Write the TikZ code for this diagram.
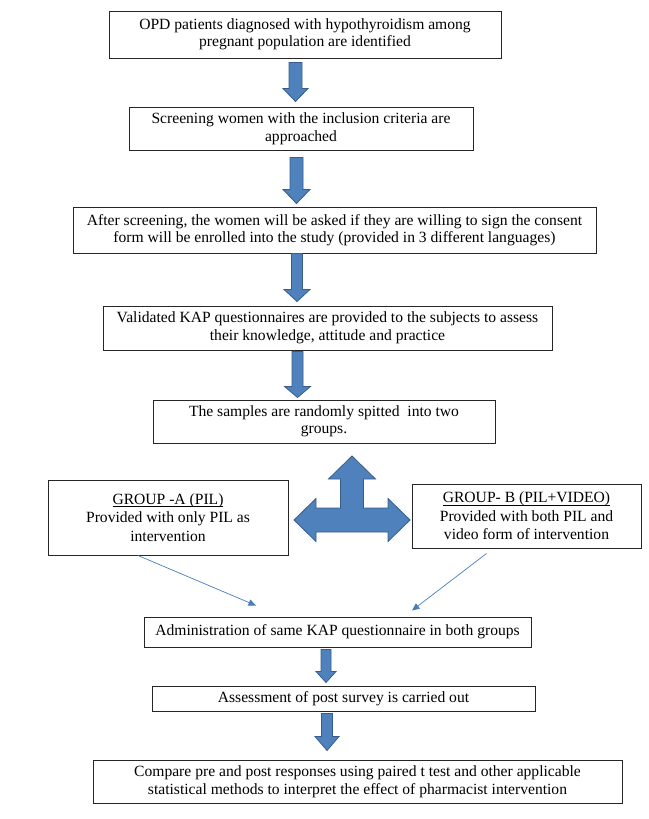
\documentclass[tikz,border=0pt]{standalone}
\usepackage{fontspec}
\setmainfont{Liberation Serif}
\usetikzlibrary{calc,arrows.meta}
\definecolor{arrfill}{RGB}{79,129,189}
\definecolor{arrdraw}{RGB}{56,93,138}
\definecolor{thinblue}{RGB}{74,126,187}
\newcommand\ulin[1]{\setbox0\hbox{#1}\rlap{\rule[-2.6pt]{\wd0}{0.8pt}}\box0}
\tikzset{
  box/.style={draw=black!85, line width=1pt, align=center, inner sep=0pt,
    font=\rmfamily\fontsize{15.6pt}{17.5pt}\selectfont},
  groupbox/.style={box, font=\rmfamily\fontsize{15.6pt}{18.5pt}\selectfont},
  blockarrow/.style={fill=arrfill, draw=arrdraw, line width=0.8pt, line join=miter},
  thinarrow/.style={draw=thinblue, line width=0.7pt, -{Triangle[width=6.5pt,length=7.5pt]}},
}
% #1 upper node, #2 lower node, #3 x, #4 top gap, #5 bottom gap,
% #6 shaft half width, #7 head half width, #8 head length
\newcommand\blockdown[8]{%
  \path[blockarrow] let \p1=(#1.south), \p2=(#2.north) in
    ({(#3-#6)*1pt},{\y1-#4pt}) -- ({(#3+#6)*1pt},{\y1-#4pt})
    -- ({(#3+#6)*1pt},{\y2+#5pt+#8pt}) -- ({(#3+#7)*1pt},{\y2+#5pt+#8pt})
    -- ({#3*1pt},{\y2+#5pt})
    -- ({(#3-#7)*1pt},{\y2+#5pt+#8pt}) -- ({(#3-#6)*1pt},{\y2+#5pt+#8pt}) -- cycle;}
\begin{document}
\begin{tikzpicture}[x=1pt,y=-1pt]
\useasboundingbox (0,0) rectangle (648,819);

\node[box, minimum width=392pt, minimum height=47pt] (b1) at (305,34.5)
  {OPD patients diagnosed with hypothyroidism among\\pregnant population are identified};
\node[box, minimum width=344pt, minimum height=43pt] (b2) at (301,128.5)
  {Screening women with the inclusion criteria are\\approached};
\node[box, minimum width=523pt, minimum height=46pt] (b3) at (334.5,230)
  {After screening, the women will be asked if they are willing to sign the consent\\form will be enrolled into the study (provided in 3 different languages)};
\node[box, minimum width=449pt, minimum height=44pt] (b4) at (327.5,328)
  {Validated KAP questionnaires are provided to the subjects to assess\\their knowledge, attitude and practice};
\node[box, minimum width=342pt, minimum height=43pt] (b5) at (324,421.5)
  {The samples are randomly spitted\ \ into two\\groups.};
\node[groupbox, minimum width=240pt, minimum height=75pt] (gA) at (168,517.5)
  {\ulin{GROUP -A (PIL)}\\Provided with only PIL as\\intervention};
\node[groupbox, minimum width=229pt, minimum height=64pt] (gB) at (526.5,516)
  {\ulin{GROUP- B (PIL+VIDEO)}\\Provided with both PIL and\\video form of intervention};
\node[box, minimum width=387pt, minimum height=30pt] (adm) at (337.5,632)
  {Administration of same KAP questionnaire in both groups};
\node[box, minimum width=383pt, minimum height=25pt] (b7) at (343.5,698.5)
  {Assessment of post survey is carried out};
\node[box, minimum width=529pt, minimum height=43pt] (b8) at (357.5,781.5)
  {Compare pre and post responses using paired t test and other applicable\\statistical methods to interpret the effect of pharmacist intervention};

\blockdown{b1}{b2}{295.5}{4}{5}{6.5}{12.5}{13}
\blockdown{b2}{b3}{296.5}{7}{3}{6.5}{13.5}{14}
\blockdown{b3}{b4}{297}{0}{4}{5.5}{13}{12}
\blockdown{b4}{b5}{297.5}{1}{2}{5.5}{13}{11}
\blockdown{adm}{b7}{326}{2}{3}{5}{10}{11}
\blockdown{b7}{b8}{327}{2}{9}{5.5}{12}{14}

\coordinate (hub) at (352,520);
\path[blockarrow, shift={(hub)}]
  (0,-64) -- (23.5,-41) -- (11.5,-41) -- (11.5,-12) -- (36,-12) -- (36,-21.5)
  -- (58,0) -- (36,21.5) -- (36,12) -- (-36,12) -- (-36,21.5) -- (-58,0)
  -- (-36,-21.5) -- (-36,-12) -- (-11.5,-12) -- (-11.5,-41) -- (-23.5,-41) -- cycle;

\draw[thinarrow] ($(gA.south)+(-30,0)$) -- ($(adm.north)+(-81.5,-11)$);
\draw[thinarrow] ($(gB.south)+(-40,5)$) -- ($(adm.north)+(74.5,-6)$);
\end{tikzpicture}
\end{document}
